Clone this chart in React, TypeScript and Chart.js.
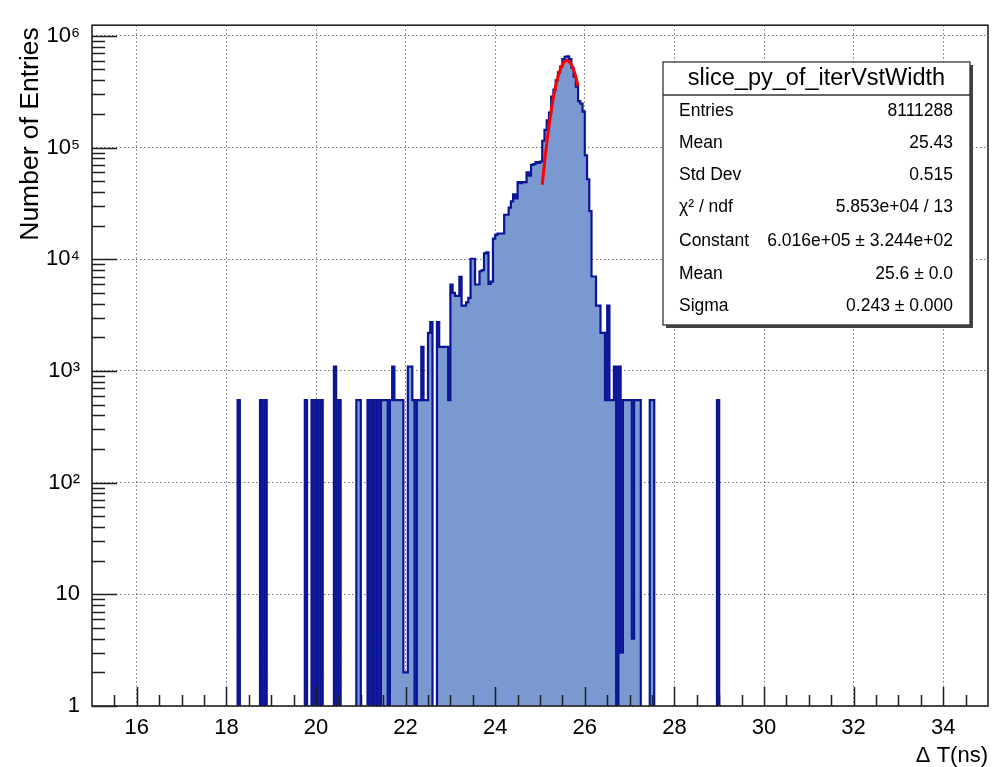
import React, { useEffect, useRef } from 'react';
import { Chart, registerables } from 'chart.js';

Chart.register(...registerables);

const FONT = '"Liberation Sans", Arial, Helvetica, sans-serif';

// ---- axes ----
const X_MIN = 15;
const X_MAX = 35;
const Y_MIN = 1;
const Y_MAX = 1.245e6;
const BIN_WIDTH = 0.05;
const EMPTY_FLOOR = 0.1; // empty bins are drawn below the axis minimum (hidden)

const xTickValues = [16, 18, 20, 22, 24, 26, 28, 30, 32, 34];
const xTickLabels = ['16', '18', '20', '22', '24', '26', '28', '30', '32', '34'];
const yTickValues = [1, 10, 100, 1000, 10000, 100000, 1000000];
const yTickLabels = ['1', '10', '10²', '10³', '10⁴', '10⁵', '10⁶'];

const xTitle = 'Δ T(ns)';
const yTitle = 'Number of Entries';

// ---- histogram contents (bin low edges, 0.05 ns bins) ----
const lowTailEdges = [
  18.25, 18.75, 18.85, 19.75, 19.9, 20.0, 20.1, 20.4, 20.5, 20.9, 20.95, 21.15, 21.25,
  21.35, 21.45, 21.5, 21.55, 21.65, 21.7, 21.75, 21.8, 21.85, 21.9, 21.95, 22.0, 22.05,
  22.1, 22.15, 22.25, 22.3, 22.35, 22.4, 22.45, 22.5, 22.55, 22.7, 22.75, 22.8, 22.85,
  22.9, 22.95,
];
const lowTailContents = [
  547, 547, 547, 547, 547, 547, 547, 1094, 547, 547, 547, 547, 547,
  547, 547, 547, 547, 547, 1094, 547, 547, 547, 547, 2, 2, 1094,
  1094, 547, 547, 547, 1641, 547, 547, 2188, 2735, 2735, 1641, 1641, 1641,
  1641, 547,
];

const coreFirstEdge = 23.0;
const coreContents = [
  5940, 5000, 4700, 4700, 6950, 3840, 3840, 4100, 4500, 10100, // 23.00 - 23.45
  10100, 5940, 5940, 7800, 8000, 11300, 11500, 6000, 6300, 15300, // 23.50 - 23.95
  16500, 17000, 17000, 17000, 25000, 25000, 29000, 33000, 38000, 35000, // 24.00 - 24.45
  49000, 48000, 49000, 49000, 60000, 56000, 70000, 71000, 74000, 73000, // 24.50 - 24.95
  75000, 115000, 144000, 175000, 205000, 285000, 330000, 400000, 470000, 530000, // 25.00 - 25.45
  620000, 650000, 656000, 620000, 520000, 430000, 350000, 260000, 247000, 210000, // 25.50 - 25.95
  85000, 52000, 27000, 7000, 7000, 3840, 3840, 2188, 2188, 547, // 26.00 - 26.45
  3840, 547, 547, 1094, 0, 1094, 3, 547, 547, 547, // 26.50 - 26.95
  547, 4, 547, 547, 547, // 27.00 - 27.20
];

const highTailEdges = [27.45, 27.5, 28.95];
const highTailContents = [547, 547, 547];

// ---- gaussian fit curve ----
const fitX = [
  25.05, 25.1, 25.15, 25.2, 25.25, 25.3, 25.35, 25.4, 25.45, 25.5, 25.55, 25.6, 25.65,
  25.7, 25.75, 25.8, 25.85,
];
const fitY = [
  46400, 72400, 108300, 155200, 213300, 280800, 354400, 428800, 497200, 552800, 589000,
  601600, 589000, 552800, 497200, 428800, 354400,
];

// ---- stats box ----
const statsTitle = 'slice_py_of_iterVstWidth';
const statsLabels = ['Entries', 'Mean', 'Std Dev', 'χ² / ndf', 'Constant', 'Mean', 'Sigma'];
const statsValues = [
  '8111288',
  '25.43',
  '0.515',
  '5.853e+04 / 13',
  '6.016e+05 ± 3.244e+02',
  '25.6 ± 0.0',
  '0.243 ± 0.000',
];

function buildHistogramPoints() {
  const nBins = Math.round((X_MAX - X_MIN) / BIN_WIDTH);
  const contents: number[] = new Array(nBins).fill(0);
  const put = (edge: number, v: number) => {
    const i = Math.round((edge - X_MIN) / BIN_WIDTH);
    if (i >= 0 && i < nBins) contents[i] = v;
  };
  lowTailEdges.forEach((e, k) => put(e, lowTailContents[k]));
  coreContents.forEach((v, k) => put(coreFirstEdge + k * BIN_WIDTH, v));
  highTailEdges.forEach((e, k) => put(e, highTailContents[k]));
  const pts: { x: number; y: number }[] = [];
  for (let i = 0; i <= nBins; i++) {
    const c = i < nBins ? contents[i] : 0;
    pts.push({ x: X_MIN + i * BIN_WIDTH, y: c > 0 ? c : EMPTY_FLOOR });
  }
  return pts;
}

const decorPlugin = {
  id: 'rootDecor',
  afterDraw(chart: any) {
    const { ctx, chartArea } = chart;
    const xs = chart.scales.x;
    const ys = chart.scales.y;
    const { left, right, top, bottom } = chartArea;
    ctx.save();

    // inside ticks
    ctx.strokeStyle = '#1e1e1e';
    ctx.lineWidth = 1.5;
    ctx.beginPath();
    for (let i = 31; i <= 69; i++) {
      const v = i / 2;
      const px = Math.round(xs.getPixelForValue(v)) + 0.5;
      const len = i % 4 === 0 ? 19 : 11;
      ctx.moveTo(px, bottom);
      ctx.lineTo(px, bottom - len);
    }
    for (let d = 0; d <= 6; d++) {
      for (let k = 1; k <= 9; k++) {
        const v = k * Math.pow(10, d);
        if (v > Y_MAX) break;
        const py = Math.round(ys.getPixelForValue(v)) + 0.5;
        const len = k === 1 ? 25 : 13;
        ctx.moveTo(left, py);
        ctx.lineTo(left + len, py);
      }
    }
    ctx.stroke();

    // frame
    ctx.lineWidth = 1.6;
    ctx.strokeStyle = '#222';
    ctx.strokeRect(left, top, right - left, bottom - top);

    // axis titles
    ctx.fillStyle = '#000';
    ctx.font = `26.5px ${FONT}`;
    ctx.save();
    ctx.translate(31, top + 2);
    ctx.rotate(-Math.PI / 2);
    ctx.textAlign = 'right';
    ctx.textBaseline = 'middle';
    ctx.fillText(yTitle, 0, 0);
    ctx.restore();

    ctx.font = `22px ${FONT}`;
    ctx.textAlign = 'right';
    ctx.textBaseline = 'alphabetic';
    ctx.fillText(xTitle, right, 762);

    // stats box
    const bx = 663;
    const by = 62;
    const bw = 307;
    const bh = 263;
    ctx.fillStyle = '#444';
    ctx.fillRect(bx + 3, by + 3, bw, bh);
    ctx.fillStyle = '#fff';
    ctx.fillRect(bx, by, bw, bh);
    ctx.lineWidth = 1.3;
    ctx.strokeStyle = '#333';
    ctx.strokeRect(bx, by, bw, bh);
    ctx.beginPath();
    ctx.moveTo(bx, by + 33);
    ctx.lineTo(bx + bw, by + 33);
    ctx.stroke();

    ctx.fillStyle = '#000';
    ctx.font = `23.5px ${FONT}`;
    ctx.textAlign = 'center';
    ctx.textBaseline = 'middle';
    ctx.fillText(statsTitle, bx + bw / 2, by + 17);

    ctx.font = `17.5px ${FONT}`;
    const rowY = [111, 143, 175, 207, 241, 274, 306];
    statsLabels.forEach((lab, i) => {
      ctx.textAlign = 'left';
      ctx.fillText(lab, bx + 16, rowY[i]);
      ctx.textAlign = 'right';
      ctx.fillText(statsValues[i], bx + bw - 17, rowY[i]);
    });

    ctx.restore();
  },
};

export default function App() {
  const canvasRef = useRef<HTMLCanvasElement | null>(null);

  useEffect(() => {
    if (!canvasRef.current) return;
    Chart.defaults.font.family = FONT;
    const histPoints = buildHistogramPoints();
    const fitPoints = fitX.map((x, i) => ({ x, y: fitY[i] }));

    const chart = new Chart(canvasRef.current, {
      type: 'line',
      data: {
        datasets: [
          {
            label: 'fit',
            data: fitPoints,
            borderColor: '#ff0000',
            borderWidth: 3,
            pointRadius: 0,
            fill: false,
            order: 0,
            clip: 0,
          } as any,
          {
            label: 'hist',
            data: histPoints,
            stepped: 'before',
            borderColor: '#0c1496',
            borderWidth: 2.2,
            backgroundColor: '#7b99d1',
            fill: 'start',
            pointRadius: 0,
            order: 1,
            clip: 0,
          } as any,
        ],
      },
      options: {
        animation: false,
        responsive: true,
        maintainAspectRatio: false,
        layout: { padding: { top: 10, right: 10, left: 0, bottom: 0 } },
        plugins: { legend: { display: false }, tooltip: { enabled: false } },
        scales: {
          x: {
            type: 'linear',
            min: X_MIN,
            max: X_MAX,
            afterBuildTicks: (s: any) => {
              s.ticks = xTickValues.map((v) => ({ value: v }));
            },
            afterFit: (s: any) => {
              s.height = 61;
            },
            grid: { color: 'rgba(0,0,0,0.55)', lineWidth: 1, drawTicks: false },
            border: { display: false, dash: [1.5, 2.5] },
            ticks: {
              autoSkip: false,
              maxRotation: 0,
              padding: 9,
              color: '#000',
              font: { family: FONT, size: 22 },
              callback: (v: any) => {
                const i = xTickValues.indexOf(Number(v));
                return i >= 0 ? xTickLabels[i] : '';
              },
            },
          },
          y: {
            type: 'logarithmic',
            min: Y_MIN,
            max: Y_MAX,
            afterBuildTicks: (s: any) => {
              s.ticks = yTickValues.map((v) => ({ value: v }));
            },
            afterFit: (s: any) => {
              s.width = 92;
            },
            grid: { color: 'rgba(0,0,0,0.55)', lineWidth: 1, drawTicks: false },
            border: { display: false, dash: [1.5, 2.5] },
            ticks: {
              autoSkip: false,
              padding: 12,
              color: '#000',
              font: { family: FONT, size: 22 },
              callback: (v: any) => {
                const i = yTickValues.indexOf(Number(v));
                return i >= 0 ? yTickLabels[i] : '';
              },
            },
          },
        },
      },
      plugins: [decorPlugin],
    });
    return () => chart.destroy();
  }, []);

  return (
    <div style={{ position: 'fixed', left: 0, top: 0, width: 998, height: 767, background: '#fff' }}>
      <canvas ref={canvasRef} />
    </div>
  );
}
